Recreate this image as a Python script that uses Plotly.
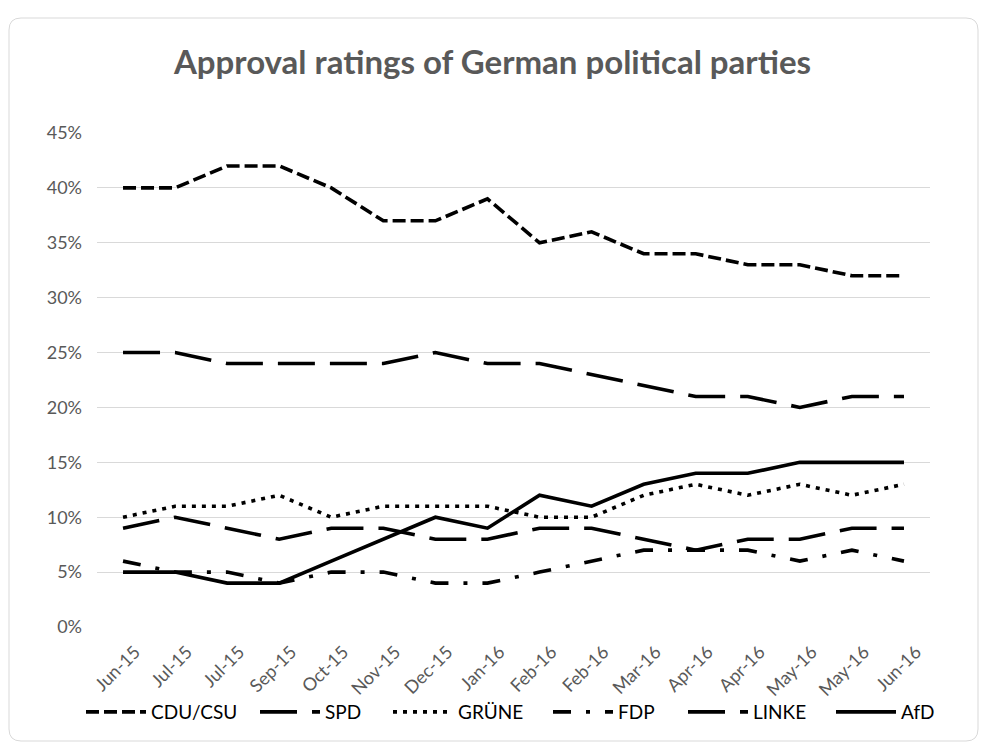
import plotly.graph_objects as go

months = ["Jun-15", "Jul-15", "Jul-15", "Sep-15", "Oct-15", "Nov-15", "Dec-15", "Jan-16",
          "Feb-16", "Feb-16", "Mar-16", "Apr-16", "Apr-16", "May-16", "May-16", "Jun-16"]
cdu_csu = [40, 40, 42, 42, 40, 37, 37, 39, 35, 36, 34, 34, 33, 33, 32, 32]
spd = [25, 25, 24, 24, 24, 24, 25, 24, 24, 23, 22, 21, 21, 20, 21, 21]
gruene = [10, 11, 11, 12, 10, 11, 11, 11, 10, 10, 12, 13, 12, 13, 12, 13]
fdp = [6, 5, 5, 4, 5, 5, 4, 4, 5, 6, 7, 7, 7, 6, 7, 6]
linke = [9, 10, 9, 8, 9, 9, 8, 8, 9, 9, 8, 7, 8, 8, 9, 9]
afd = [5, 5, 4, 4, 6, 8, 10, 9, 12, 11, 13, 14, 14, 15, 15, 15]
y_ticks = [0, 5, 10, 15, 20, 25, 30, 35, 40, 45]

series = [
    ("CDU/CSU", cdu_csu, "13px,5px"),
    ("SPD", spd, "37px,15px"),
    ("GRÜNE", gruene, "4px,6px"),
    ("FDP", fdp, "18px,15px,4px,15px"),
    ("LINKE", linke, "37px,15px"),
    ("AfD", afd, "solid"),
]
# left edge (px) of each legend entry in the reference
legend_left = [88, 262, 395, 555, 690, 838]

W, H = 985, 743
ML, MR, MT, MB = 97, 55, 133, 116
PW, PH = W - ML - MR, H - MT - MB

xs = list(range(len(months)))
fig = go.Figure()
legend_layouts = {}
for i, (name, vals, dash) in enumerate(series):
    key = "legend" if i == 0 else f"legend{i + 1}"
    fig.add_trace(go.Scatter(
        x=xs, y=[v / 100 for v in vals], name=name, mode="lines",
        line=dict(color="#000000", width=3.6, dash=dash),
        legend=key,
    ))
    legend_layouts[key] = dict(
        orientation="h", x=(legend_left[i] - 7) / W, xref="container", xanchor="left",
        y=(H - MB - 712) / PH, yanchor="middle",
        font=dict(family="Lato", size=19, color="#000000"),
        bgcolor="rgba(0,0,0,0)", itemwidth=60,
    )

def px(x):
    return (x - ML) / PW

def py(y):
    return (H - MB - y) / PH

# rounded chart border
bx0, bx1, by0, by1, r = 9, 978, 18, 741, 12
path = (
    f"M {px(bx0 + r)},{py(by0)} L {px(bx1 - r)},{py(by0)} "
    f"Q {px(bx1)},{py(by0)} {px(bx1)},{py(by0 + r)} "
    f"L {px(bx1)},{py(by1 - r)} Q {px(bx1)},{py(by1)} {px(bx1 - r)},{py(by1)} "
    f"L {px(bx0 + r)},{py(by1)} Q {px(bx0)},{py(by1)} {px(bx0)},{py(by1 - r)} "
    f"L {px(bx0)},{py(by0 + r)} Q {px(bx0)},{py(by0)} {px(bx0 + r)},{py(by0)} Z"
)

fig.update_layout(
    width=W, height=H,
    margin=dict(l=ML, r=MR, t=MT, b=MB, autoexpand=False),
    paper_bgcolor="white", plot_bgcolor="white",
    font=dict(family="Lato", size=16, color="#595959"),
    title=dict(
        text="Approval ratings of German political parties",
        x=0.5, xref="container", xanchor="center",
        y=1 - 62 / H, yref="container", yanchor="middle",
        font=dict(family="Lato", size=33, color="#595959", weight="bold"),
    ),
    xaxis=dict(
        tickmode="array", tickvals=xs, ticktext=months,
        range=[-0.5, len(months) - 0.5], tickangle=-45,
        showgrid=False, zeroline=False, showline=False, ticks="",
        tickfont=dict(size=18, color="#595959"), automargin=False,
        ticklabelshift=12, ticklabelstandoff=10,
    ),
    yaxis=dict(
        range=[0, 0.45], tickmode="array", tickvals=[t / 100 for t in y_ticks],
        ticktext=[f"{t}%" for t in y_ticks],
        showgrid=True, gridcolor="#d9d9d9", gridwidth=1,
        zeroline=False, showline=False, ticks="", ticklabelstandoff=14,
        tickfont=dict(size=18, color="#595959"), automargin=False,
    ),
    shapes=[dict(type="path", path=path, xref="paper", yref="paper",
                 line=dict(color="#d9d9d9", width=1), layer="below")],
    showlegend=True,
    **legend_layouts,
)

fig.write_html("out.html")
